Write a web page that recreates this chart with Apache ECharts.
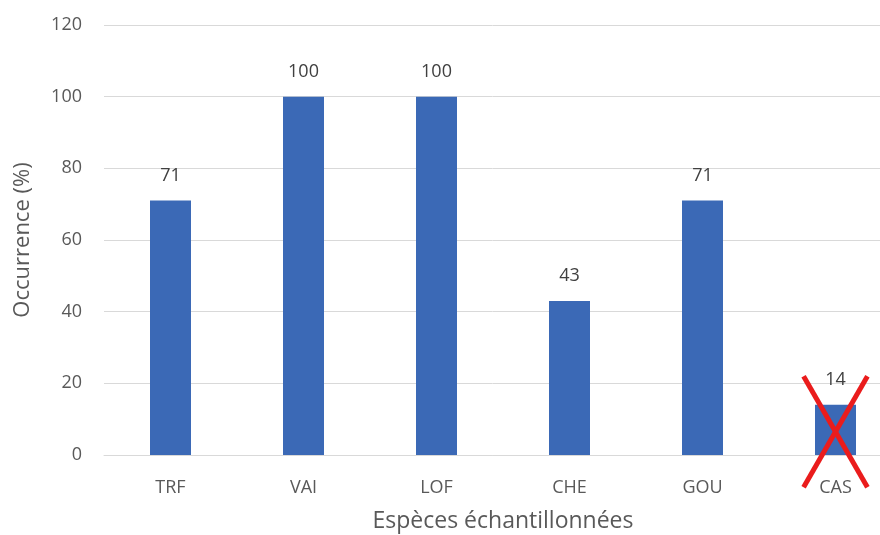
<!DOCTYPE html>
<html>
<head>
<meta charset="utf-8">
<script src="https://cdn.jsdelivr.net/npm/echarts@6/dist/echarts.min.js"></script>
<style>
  html, body { margin: 0; padding: 0; background: #fff; }
  #chart { width: 880px; height: 535px; }
</style>
</head>
<body>
<div id="chart"></div>
<script>
// Occurrence of each sampled species
const species = ['TRF', 'VAI', 'LOF', 'CHE', 'GOU', 'CAS'];
const occurrence = [71, 100, 100, 43, 71, 14];
const yTicks = [0, 20, 40, 60, 80, 100, 120];

// Species struck out with a red cross, and the value span the cross covers
const crossedSpecies = ['CAS'];
const crossSpan = [-9, 22];

const textFont = '"Open Sans", "Liberation Sans", sans-serif';

const chart = echarts.init(document.getElementById('chart'));
chart.setOption({
  animation: false,
  grid: {
    left: 104, right: -22, top: 25, bottom: 80,
    containLabel: false,
    outerBoundsMode: 'none'
  },
  xAxis: {
    type: 'category',
    data: species,
    name: 'Espèces échantillonnées',
    nameLocation: 'middle',
    nameGap: 55,
    nameTextStyle: { fontSize: 23, color: '#595959', fontFamily: textFont },
    axisLine: { lineStyle: { color: '#d9d9d9', width: 1 } },
    axisTick: { show: false },
    axisLabel: { fontSize: 18, color: '#595959', fontFamily: textFont, margin: 24 }
  },
  yAxis: {
    type: 'value',
    min: yTicks[0],
    max: yTicks[yTicks.length - 1],
    interval: yTicks[1] - yTicks[0],
    name: 'Occurrence (%)',
    nameLocation: 'middle',
    nameGap: 70,
    nameTextStyle: { fontSize: 22, color: '#595959', fontFamily: textFont },
    axisLine: { show: false },
    axisTick: { show: false },
    axisLabel: { fontSize: 18, color: '#595959', fontFamily: textFont, margin: 22 },
    splitLine: { lineStyle: { color: '#d9d9d9', width: 1 } }
  },
  series: [
    {
      type: 'bar',
      data: occurrence,
      barWidth: 41,
      itemStyle: { color: '#3b69b6' },
      label: {
        show: true,
        position: 'top',
        distance: 16,
        fontSize: 18,
        color: '#404040',
        fontFamily: textFont
      }
    },
    {
      type: 'custom',
      data: crossedSpecies.map(s => [s, crossSpan[0], crossSpan[1]]),
      z: 10,
      renderItem: function (params, api) {
        const cat = api.value(0);
        const lo = api.coord([cat, api.value(1)]);
        const hi = api.coord([cat, api.value(2)]);
        const half = api.size([1, 0])[0] * 0.24;
        const style = { stroke: '#ea1c1c', lineWidth: 5 };
        return {
          type: 'group',
          children: [
            { type: 'line', shape: { x1: hi[0] - half, y1: hi[1], x2: lo[0] + half, y2: lo[1] }, style: style },
            { type: 'line', shape: { x1: hi[0] + half, y1: hi[1], x2: lo[0] - half, y2: lo[1] }, style: style }
          ]
        };
      }
    }
  ]
});
</script>
</body>
</html>
